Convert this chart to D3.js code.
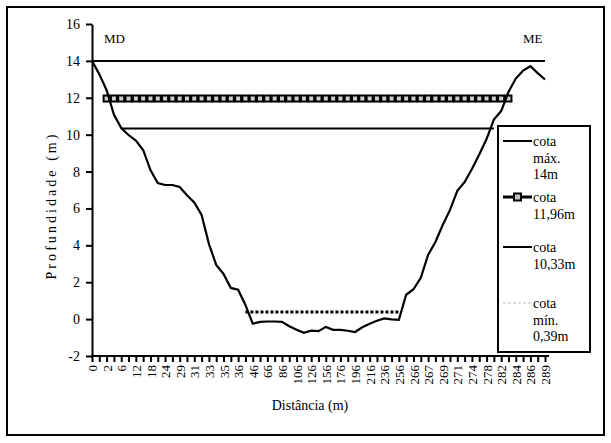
<!DOCTYPE html>
<html><head><meta charset="utf-8">
<script src="https://cdn.jsdelivr.net/npm/d3@7"></script>
<style>body{margin:0;background:#fff}svg{display:block}text{font-family:"Liberation Serif","Tinos","Times New Roman","DejaVu Serif",serif !important;fill:#000}</style>
</head><body><svg id="c" width="611" height="443"></svg>
<script>
// Distance categories (m); only every other one is labelled on the axis
const categories = [0,1,2,4,6,9,12,15,18,21,24,27,29,30,31,32,33,34,35,35.5,36,41,46,56,66,76,86,96,106,116,126,141,156,166,176,186,196,206,216,226,236,246,256,261,266,266.5,267,268,269,270,271,272.5,274,276,278,280,282,283,284,285,286,287.5,289];
// Bed profile depth (m)
const depth = [14,13.28,12.41,11.09,10.36,9.98,9.68,9.17,8.08,7.38,7.27,7.27,7.16,6.71,6.32,5.65,4.08,2.94,2.45,1.69,1.59,0.77,-0.25,-0.15,-0.13,-0.13,-0.15,-0.39,-0.58,-0.74,-0.63,-0.65,-0.42,-0.58,-0.58,-0.63,-0.7,-0.44,-0.25,-0.09,0.04,-0.01,-0.04,1.32,1.62,2.24,3.48,4.18,5.1,5.92,6.95,7.43,8.14,8.92,9.76,10.82,11.28,12.31,13.04,13.47,13.71,13.34,12.99];
// Water levels: value and first/last category index
const levelNames = ["cota máx. 14m","cota 11,96m","cota 10,33m","cota mín. 0,39m"];
const levelValues = [14, 11.96, 10.33, 0.39];
const levelFirst = [0, 2, 4, 21];
const levelLast = [62, 57, 55, 42];
const yTicks = [-2,0,2,4,6,8,10,12,14,16];

const svg = d3.select("#c");
svg.append("rect").attr("x",7).attr("y",7).attr("width",597).attr("height",428).attr("fill","none").attr("stroke","#000").attr("stroke-width",2);

const idx = categories.map((d,i)=>i);
const x = d3.scalePoint().domain(idx).range([92,545]).padding(0);
const y = d3.scaleLinear().domain([-2,16]).range([356,24]);

// y axis
const ya = svg.append("g").attr("transform","translate(92,0)")
  .call(d3.axisLeft(y).tickValues(yTicks).tickSize(6).tickSizeOuter(0).tickPadding(6).tickFormat(d=>String(d)));
ya.select(".domain").attr("stroke-width",2);
ya.selectAll(".tick line").attr("stroke-width",2);
ya.selectAll(".tick text").style("font-size","14px");

// x axis
const xa = svg.append("g").attr("transform","translate(0,356)")
  .call(d3.axisBottom(x).tickSize(6).tickSizeOuter(0).tickFormat(i=> i%2===0 ? String(categories[i]) : ""));
xa.select(".domain").attr("d","M91,0H549").attr("stroke-width",2);
xa.selectAll(".tick line").attr("stroke-width",2);
xa.selectAll(".tick text").style("font-size","13px")
  .attr("transform","rotate(-90)").attr("text-anchor","end").attr("x",-9).attr("y",0).attr("dy","0.35em");

// titles
svg.append("text").attr("x",310).attr("y",410).attr("text-anchor","middle").style("font-size","14px").text("Distância (m)");
svg.append("text").attr("transform","translate(56,207) rotate(-90)").attr("text-anchor","middle").style("font-size","14px")
  .attr("textLength",145).attr("lengthAdjust","spacing").text("Profundidade (m)");
svg.append("text").attr("x",104).attr("y",43).style("font-size","13px").text("MD");
svg.append("text").attr("x",523).attr("y",43).style("font-size","13px").text("ME");

// levels
const line = d3.line().x(d=>x(d[0])).y(d=>y(d[1]));
function pts(k){ const a=[]; for(let i=levelFirst[k];i<=levelLast[k];i++) a.push([i,levelValues[k]]); return a; }
svg.append("path").attr("d",line(pts(0))).attr("fill","none").attr("stroke","#000").attr("stroke-width",2);
svg.append("path").attr("d",line(pts(2))).attr("fill","none").attr("stroke","#000").attr("stroke-width",2);
svg.append("path").attr("d",line(pts(3))).attr("fill","none").attr("stroke","#000").attr("stroke-width",3).attr("stroke-dasharray","3,2");
svg.append("path").attr("d",line(pts(1))).attr("fill","none").attr("stroke","#000").attr("stroke-width",3);
svg.append("g").selectAll("rect").data(pts(1)).join("rect")
  .attr("x",d=>x(d[0])-3).attr("y",d=>y(d[1])-3).attr("width",6).attr("height",6)
  .attr("fill","#d0d0d0").attr("stroke","#000").attr("stroke-width",2);

// profile
svg.append("path").attr("d",line(depth.map((v,i)=>[i,v]))).attr("fill","none").attr("stroke","#000").attr("stroke-width",2.2);

// legend
const lg = svg.append("g");
lg.append("rect").attr("x",498).attr("y",126).attr("width",92).attr("height",226).attr("fill","#fff").attr("stroke","#000").attr("stroke-width",2);
const legLines = [["cota","máx.","14m"],["cota","11,96m"],["cota","10,33m"],["cota","mín.","0,39m"]];
const legY = [141, 197, 247, 303];
legLines.forEach((ls,k)=>{
  const g = lg.append("g");
  const sample = g.append("line").attr("x1",503).attr("x2",532).attr("y1",legY[k]).attr("y2",legY[k]);
  if(k===3) sample.attr("stroke","#bbb").attr("stroke-width",1).attr("stroke-dasharray","3,2");
  else sample.attr("stroke","#000").attr("stroke-width",k===1?3:2);
  if(k===1) g.append("rect").attr("x",514).attr("y",legY[k]-3.5).attr("width",7).attr("height",7).attr("fill","#c0c0c0").attr("stroke","#000").attr("stroke-width",2);
  ls.forEach((t,j)=> g.append("text").attr("x",533).attr("y",legY[k]+5+j*16.5).style("font-size","14px").text(t));
});
</script></body></html>
